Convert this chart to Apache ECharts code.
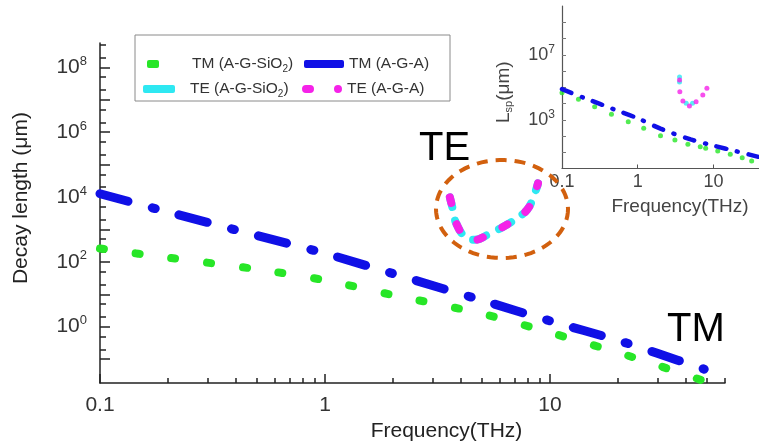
<!DOCTYPE html>
<html>
<head>
<meta charset="utf-8">
<script src="https://cdn.jsdelivr.net/npm/echarts@6/dist/echarts.min.js"></script>
<style>
  html, body { margin: 0; padding: 0; background: #fff; }
  #chart { width: 759px; height: 447px; }
</style>
</head>
<body>
<div id="chart"></div>
<script>
// ---- Main panel: decay length (µm) versus frequency (THz) ----
const freqTM   = [0.1, 0.2, 0.5, 1, 2, 5, 10, 20, 30, 48.5];
const tmSiO2   = [257, 135, 59, 27, 9.5, 2.5, 0.66, 0.16, 0.065, 0.021];
const tmAGA    = [12600, 3470, 646, 182, 43.6, 6.46, 1.51, 0.38, 0.151, 0.049];

const freqTE   = [3.59, 3.71, 3.86, 4.28, 4.64, 5.3, 5.87, 6.64, 7.13, 7.9, 8.4, 8.85];
const teSiO2   = [9800, 3980, 1380, 550, 480, 690, 980, 1590, 2240, 3980, 9100, 26300];
const teAGA    = [9800, 3980, 1380, 550, 480, 690, 980, 1590, 2240, 3980, 9100, 26300];

// ---- Inset panel: L_sp (µm) versus frequency (THz) ----
const freqIn       = [0.1, 0.2, 0.5, 1, 2, 5, 10, 20, 40];
const inAGA        = [75900, 21400, 4170, 1230, 282, 61.7, 25.7, 11.5, 5.1];
const freqInSiO2   = [0.1, 0.165, 0.27, 0.45, 0.75, 1.2, 2.0, 3.1, 4.6, 6.7, 7.9, 11.4, 16.7, 24, 32];
const inSiO2       = [45700, 18200, 6310, 2190, 759, 295, 105, 56.2, 30.9, 21.9, 17.4, 12.0, 7.41, 4.57, 2.88];
const freqInTEAGA  = [3.57, 3.6, 3.95, 4.82, 5.9, 7.24, 8.2];
const inTEAGA      = [282000, 53700, 14100, 7080, 12900, 33100, 87100];
const freqInTESiO2 = [3.57, 3.57, 4.37, 5.3];
const inTESiO2     = [427000, 209000, 10200, 10200];

// ---- Tick and label values ----
const mainXLabels = [0.1, 1, 10];
const mainXMajor  = [0.1, 1, 10];
const mainXMinor  = [0.2, 0.3, 0.4, 0.5, 0.6, 0.7, 0.8, 0.9, 2, 3, 4, 5, 6, 7, 8, 9, 20, 30, 40, 50, 60];
const mainYLabels = [1, 1e2, 1e4, 1e6, 1e8];
const mainYMajor  = [1e-1, 1, 1e1, 1e2, 1e3, 1e4, 1e5, 1e6, 1e7, 1e8];
const mainYMinor  = [2e-1, 5e-1, 2, 5, 20, 50, 200, 500, 2e3, 5e3, 2e4, 5e4, 2e5, 5e5, 2e6, 5e6, 2e7, 5e7, 2e8, 5e8];
const insetXLabels = [0.1, 1, 10];
const insetYLabels = [1e3, 1e7];
const insetYTicks  = [1e1, 1e2, 1e3, 1e4, 1e5, 1e6, 1e7, 1e8, 1e9];

const NAMES = {
  tmSiO2: 'TM (A-G-SiO2)',
  tmAGA:  'TM (A-G-A)',
  teSiO2: 'TE (A-G-SiO2)',
  teAGA:  'TE (A-G-A)'
};
const COLORS = {
  green:   '#27e627',
  blue:    '#1010e6',
  cyan:    '#2ee8f2',
  magenta: '#f522e8',
  orange:  '#d2600e'
};

const FONT = 'Liberation Sans, Arial, Helvetica, sans-serif';
const zip = (xs, ys) => xs.map((x, i) => [x, ys[i]]);
const pow10Label = v => '{b|10}{s|' + Math.round(Math.log10(v)) + '}';
const plainLabel = v => String(+(+v).toPrecision(3));

const chart = echarts.init(document.getElementById('chart'), null, { renderer: 'canvas' });

// Legend text with a subscripted "2" in SiO2
const legendText = (name) => {
  const m = name.match(/^(.*SiO)2(\))$/);
  if (m) return '{t|' + m[1] + '}{s|2}{t|' + m[2] + '}';
  return '{t|' + name + '}';
};
const legendRich = {
  sp: { width: 28, height: 18 },
  sp2: { width: 10, height: 18 },
  t: { fontSize: 15.5, fontFamily: FONT, color: '#333', lineHeight: 18 },
  s: { fontSize: 10, fontFamily: FONT, color: '#333', padding: [10, 0, 0, 0] }
};
function legendItem(name, left, top, w, h, icon, color, spacer) {
  return {
    left, top, padding: 0, itemWidth: w, itemHeight: h, itemGap: 0,
    selectedMode: false,
    data: [{ name, icon, itemStyle: { color, borderWidth: 0 } }],
    itemStyle: { borderWidth: 0 },
    formatter: n => (spacer ? '{' + spacer + '|}' : '') + legendText(n),
    textStyle: { rich: legendRich, fontFamily: FONT, fontSize: 15.5, color: '#333' }
  };
}

// Ellipse outline around the TE curves
const ring = [];
{
  const cx = 502, cy = 209, rx = 66, ry = 49;
  for (let i = 0; i <= 90; i++) {
    const t = i / 90 * Math.PI * 2;
    ring.push([cx + rx * Math.cos(t), cy + ry * Math.sin(t)]);
  }
}

const axisLineStyle = { color: '#222', width: 1.5 };

const option = {
  animation: false,
  backgroundColor: '#ffffff',
  grid: [
    { left: 100, top: 43, width: 625, height: 344, containLabel: false },
    { left: 562, top: 6, width: 197, height: 162.5, containLabel: false }
  ],
  xAxis: [
    {
      type: 'log', gridIndex: 0, min: 0.1, max: 60, position: 'bottom',
      axisLine: { show: true, lineStyle: axisLineStyle },
      axisTick: { show: true, inside: true, length: 9, customValues: mainXMajor, lineStyle: axisLineStyle },
      axisLabel: { customValues: mainXLabels, formatter: plainLabel, fontSize: 21, fontFamily: FONT, color: '#333', margin: 12 },
      splitLine: { show: false },
      name: 'Frequency(THz)', nameLocation: 'middle', nameGap: 35,
      nameTextStyle: { fontSize: 21, fontFamily: FONT, color: '#222', padding: [0, 0, 0, 68] }
    },
    {
      type: 'log', gridIndex: 0, min: 0.1, max: 60, position: 'bottom',
      axisLine: { show: false },
      axisTick: { show: true, inside: true, length: 5, customValues: mainXMinor, lineStyle: axisLineStyle },
      axisLabel: { show: false },
      splitLine: { show: false }
    },
    {
      type: 'log', gridIndex: 1, min: 0.1, max: 40, position: 'bottom',
      axisLine: { show: true, lineStyle: { color: '#555', width: 1.2 } },
      axisTick: { show: true, inside: true, length: 4, customValues: insetXLabels, lineStyle: { color: '#555' } },
      axisLabel: { customValues: insetXLabels, formatter: plainLabel, fontSize: 18, fontFamily: FONT, color: '#444', margin: 5 },
      splitLine: { show: false },
      name: 'Frequency(THz)', nameLocation: 'middle', nameGap: 29,
      nameTextStyle: { fontSize: 19, fontFamily: FONT, color: '#444', padding: [0, 0, 0, 39] }
    }
  ],
  yAxis: [
    {
      type: 'log', gridIndex: 0, min: Math.pow(10, -1.74), max: Math.pow(10, 8.75), position: 'left',
      axisLine: { show: true, lineStyle: axisLineStyle },
      axisTick: { show: true, inside: true, length: 10, customValues: mainYMajor, lineStyle: axisLineStyle },
      axisLabel: {
        customValues: mainYLabels, formatter: pow10Label, margin: 13,
        rich: {
          b: { fontSize: 21, fontFamily: FONT, color: '#333' },
          s: { fontSize: 13, fontFamily: FONT, color: '#333', padding: [0, 0, 12, 0] }
        }
      },
      splitLine: { show: false },
      name: 'Decay length (\u03bcm)', nameLocation: 'middle', nameGap: 68,
      nameTextStyle: { fontSize: 21, fontFamily: FONT, color: '#222', padding: [0, 0, 0, 30] }
    },
    {
      type: 'log', gridIndex: 0, min: Math.pow(10, -1.74), max: Math.pow(10, 8.75), position: 'left',
      axisLine: { show: false },
      axisTick: { show: true, inside: true, length: 6, customValues: mainYMinor, lineStyle: axisLineStyle },
      axisLabel: { show: false },
      splitLine: { show: false }
    },
    {
      type: 'log', gridIndex: 1, min: 1, max: 1e10, position: 'left',
      axisLine: { show: true, lineStyle: { color: '#555', width: 1.2 } },
      axisTick: { show: true, inside: true, length: 4, customValues: insetYTicks, lineStyle: { color: '#777' } },
      axisLabel: {
        customValues: insetYLabels, formatter: pow10Label, margin: 7,
        rich: {
          b: { fontSize: 18, fontFamily: FONT, color: '#444' },
          s: { fontSize: 12, fontFamily: FONT, color: '#444', padding: [0, 0, 10, 0] }
        }
      },
      splitLine: { show: false },
      name: '{a|L}{b|sp}{a|(\u03bcm)}', nameLocation: 'middle', nameGap: 48,
      nameTextStyle: {
        padding: [0, 10, 0, 0],
        rich: {
          a: { fontSize: 19, fontFamily: FONT, color: '#444' },
          b: { fontSize: 11, fontFamily: FONT, color: '#444', padding: [9, 0, 0, 0] }
        }
      }
    }
  ],
  legend: [
    legendItem(NAMES.tmSiO2, 147, 56, 12, 8, 'roundRect', COLORS.green, 'sp'),
    legendItem(NAMES.tmAGA, 304, 56, 40, 8, 'roundRect', COLORS.blue, null),
    legendItem(NAMES.teSiO2, 143, 81, 32, 8, 'roundRect', COLORS.cyan, 'sp2'),
    legendItem(NAMES.teAGA, 302, 81, 40, 8,
      'path://M4,0L8,0A4,4,0,0,1,8,8L4,8A4,4,0,0,1,4,0ZM36,0A4,4,0,0,1,36,8A4,4,0,0,1,36,0Z',
      COLORS.magenta, null)
  ],
  graphic: [
    {
      type: 'rect', z: 0, silent: true,
      shape: { x: 135, y: 35, width: 315, height: 66 },
      style: { fill: '#fff', stroke: '#8a8a8a', lineWidth: 1 }
    },
    {
      type: 'polygon', z: 10, silent: true,
      shape: { points: ring },
      style: { fill: 'none', stroke: COLORS.orange, lineWidth: 4, lineDash: [11, 8] }
    },
    {
      type: 'text', z: 10, silent: true, x: 419, y: 149,
      style: { text: 'TE', fontSize: 40, fontFamily: FONT, fill: '#000', align: 'left', verticalAlign: 'middle' }
    },
    {
      type: 'text', z: 10, silent: true, x: 667, y: 330,
      style: { text: 'TM', fontSize: 40, fontFamily: FONT, fill: '#000', align: 'left', verticalAlign: 'middle' }
    }
  ],
  series: [
    {
      type: 'line', name: NAMES.tmSiO2, xAxisIndex: 0, yAxisIndex: 0,
      data: zip(freqTM, tmSiO2), showSymbol: false, smooth: 0.3, z: 3,
      itemStyle: { color: COLORS.green },
      lineStyle: { color: COLORS.green, width: 8, type: [4, 32], cap: 'round' }
    },
    {
      type: 'line', name: NAMES.tmAGA, xAxisIndex: 0, yAxisIndex: 0,
      data: zip(freqTM, tmAGA), showSymbol: false, smooth: 0.3, z: 4,
      itemStyle: { color: COLORS.blue },
      lineStyle: { color: COLORS.blue, width: 9, type: [29, 25, 3, 25], cap: 'round' }
    },
    {
      type: 'line', name: NAMES.teSiO2, xAxisIndex: 0, yAxisIndex: 0,
      data: zip(freqTE, teSiO2), showSymbol: false, smooth: true, z: 5,
      itemStyle: { color: COLORS.cyan },
      lineStyle: { color: COLORS.cyan, width: 8, type: [14, 14], dashOffset: 4, cap: 'round' }
    },
    {
      type: 'line', name: NAMES.teAGA, xAxisIndex: 0, yAxisIndex: 0,
      data: zip(freqTE, teAGA), showSymbol: false, smooth: true, z: 6,
      itemStyle: { color: COLORS.magenta },
      lineStyle: { color: COLORS.magenta, width: 8, type: [6, 22], cap: 'round' }
    },
    // inset
    {
      type: 'line', name: NAMES.tmAGA, xAxisIndex: 2, yAxisIndex: 2,
      data: zip(freqIn, inAGA), showSymbol: false, smooth: 0.3, z: 4,
      itemStyle: { color: COLORS.blue },
      lineStyle: { color: COLORS.blue, width: 4.5, type: [10, 11, 1, 11], cap: 'round' }
    },
    {
      type: 'scatter', name: NAMES.tmSiO2, xAxisIndex: 2, yAxisIndex: 2,
      data: zip(freqInSiO2, inSiO2), symbol: 'circle', symbolSize: 5, z: 3,
      itemStyle: { color: COLORS.green }
    },
    {
      type: 'scatter', name: NAMES.teSiO2, xAxisIndex: 2, yAxisIndex: 2,
      data: zip(freqInTESiO2, inTESiO2), symbol: 'circle', symbolSize: 5, z: 5,
      itemStyle: { color: COLORS.cyan }
    },
    {
      type: 'scatter', name: NAMES.teAGA, xAxisIndex: 2, yAxisIndex: 2,
      data: zip(freqInTEAGA, inTEAGA), symbol: 'circle', symbolSize: 5, z: 6,
      itemStyle: { color: COLORS.magenta }
    }
  ]
};

chart.setOption(option);
</script>
</body>
</html>
